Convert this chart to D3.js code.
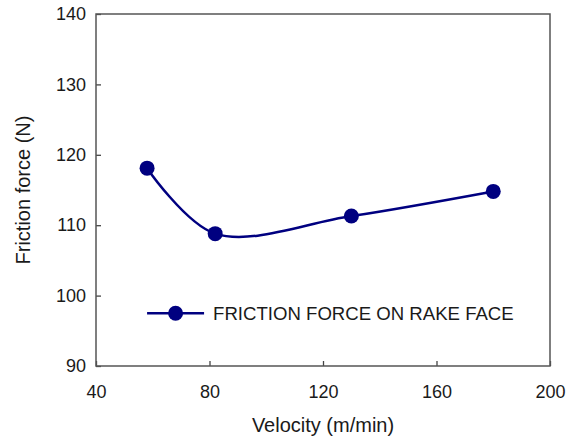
<!DOCTYPE html>
<html>
<head>
<meta charset="utf-8">
<script src="https://cdn.jsdelivr.net/npm/d3@7"></script>
<style>
  body { margin: 0; background: #fff; }
  text { font-family: "Liberation Sans", Arial, sans-serif; fill: #1a1a1a; }
</style>
</head>
<body>
<script>
var velocity = [58, 82, 130, 180];
var frictionForce = [118.1, 108.8, 111.3, 114.8];
var seriesName = "FRICTION FORCE ON RAKE FACE";
var xTicks = [40, 80, 120, 160, 200];
var yTicks = [90, 100, 110, 120, 130, 140];

var svgWidth = 576;
var svgHeight = 440;

var margin = {
    top: 14,
    right: 26,
    bottom: 74,
    left: 96
};

var chartWidth = svgWidth - margin.left - margin.right;
var chartHeight = svgHeight - margin.top - margin.bottom;

var svg = d3.select("body")
    .append("svg")
    .attr("width", svgWidth)
    .attr("height", svgHeight);

var chartGroup = svg.append("g")
    .attr("transform", `translate(${margin.left}, ${margin.top})`);

var xScale = d3.scaleLinear()
    .domain([40, 200])
    .range([0, chartWidth]);

var yScale = d3.scaleLinear()
    .domain([90, 140])
    .range([chartHeight, 0]);

var bottomAxis = d3.axisBottom(xScale)
    .tickValues(xTicks)
    .tickSize(-5)
    .tickPadding(19);
var leftAxis = d3.axisLeft(yScale)
    .tickValues(yTicks)
    .tickSize(-5)
    .tickPadding(10);

var xAxisG = chartGroup.append("g")
    .attr("transform", `translate(0, ${chartHeight})`)
    .call(bottomAxis);

var yAxisG = chartGroup.append("g")
    .call(leftAxis);

[xAxisG, yAxisG].forEach(function(g) {
    g.select(".domain").remove();
    g.selectAll("line").attr("stroke", "#444").attr("stroke-width", 1.3);
    g.selectAll("text").style("font-size", "18px").attr("fill", "#1a1a1a");
});

// frame
chartGroup.append("rect")
    .attr("width", chartWidth)
    .attr("height", chartHeight)
    .attr("fill", "none")
    .attr("stroke", "#555")
    .attr("stroke-width", 1.5);

var points = velocity.map((v, i) => ({x: v, y: frictionForce[i]}));

var line = d3.line()
    .x(d => xScale(d.x))
    .y(d => yScale(d.y))
    .curve(d3.curveCatmullRom.alpha(0.5));

chartGroup.append("path")
    .datum(points)
    .attr("d", line)
    .attr("fill", "none")
    .attr("stroke", "#000080")
    .attr("stroke-width", 2.5);

chartGroup.selectAll("circle.pt")
    .data(points)
    .enter()
    .append("circle")
    .attr("class", "pt")
    .attr("cx", d => xScale(d.x))
    .attr("cy", d => yScale(d.y))
    .attr("r", 7.5)
    .attr("fill", "#000080");

// legend
var legend = chartGroup.append("g")
    .attr("transform", `translate(${xScale(58)}, ${yScale(97.5)})`);
legend.append("line")
    .attr("x1", 0).attr("x2", 57)
    .attr("stroke", "#000080")
    .attr("stroke-width", 2.5);
legend.append("circle")
    .attr("cx", 28.5)
    .attr("r", 7.5)
    .attr("fill", "#000080");
legend.append("text")
    .attr("x", 66)
    .attr("dy", "0.35em")
    .style("font-size", "18.6px")
    .text(seriesName);

// axis titles
chartGroup.append("text")
    .attr("transform", "rotate(-90)")
    .attr("x", -chartHeight / 2)
    .attr("y", -margin.left + 30)
    .attr("text-anchor", "middle")
    .style("font-size", "20px")
    .text("Friction force (N)");

chartGroup.append("text")
    .attr("x", chartWidth / 2)
    .attr("y", chartHeight + 66)
    .attr("text-anchor", "middle")
    .style("font-size", "20px")
    .text("Velocity (m/min)");
</script>
</body>
</html>
